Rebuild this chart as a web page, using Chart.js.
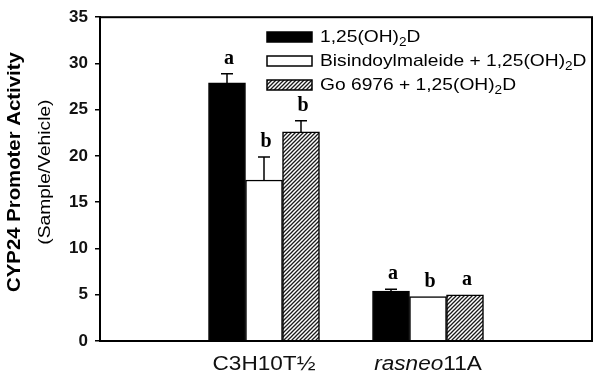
<!DOCTYPE html>
<html>
<head>
<meta charset="utf-8">
<script src="https://cdn.jsdelivr.net/npm/chart.js@4/dist/chart.umd.min.js"></script>
<style>
  html, body { margin: 0; padding: 0; background: #fff; }
  #wrap { width: 600px; height: 386px; }
</style>
</head>
<body>
<div id="wrap"><canvas id="chart" width="600" height="386"></canvas></div>
<script>
// categories (empty slots at both ends keep the two groups where they sit)
const cells = ['', 'C3H10T½', 'rasneo11A', ''];
const cellParts = [[], [['C3H10T½', false]], [['rasneo', true], ['11A', false]], []];

// series values and upward error bars
const calcitriol = [null, 27.9, 5.4, null];
const calcitriolErr = [null, 1.0, 0.2, null];
const bisindo = [null, 17.4, 4.8, null];
const bisindoErr = [null, 2.5, 0, null];
const go6976 = [null, 22.6, 5.0, null];
const go6976Err = [null, 1.2, 0, null];

// significance letters
const calcitriolSig = ['', 'a', 'a', ''];
const bisindoSig = ['', 'b', 'b', ''];
const go6976Sig = ['', 'b', 'a', ''];

// legend text: [main, subscript, tail]
const legendNames = [
    ['1,25(OH)', '2', 'D'],
    ['Bisindoylmaleide + 1,25(OH)', '2', 'D'],
    ['Go 6976 + 1,25(OH)', '2', 'D']
];

const yTicks = [0, 5, 10, 15, 20, 25, 30, 35];

const SANS = '"Liberation Sans", Arial, sans-serif';
const WIDE = 1.13;   // the figure's lettering runs a bit wide

// diagonal hatch for the Go 6976 bars
function makeHatch() {
    const c = document.createElement('canvas');
    c.width = 4; c.height = 4;
    const g = c.getContext('2d');
    g.fillStyle = '#fff';
    g.fillRect(0, 0, 4, 4);
    g.strokeStyle = '#1a1a1a';
    g.lineWidth = 1.3;
    g.beginPath();
    g.moveTo(0, 4); g.lineTo(4, 0);
    g.moveTo(-1, 1); g.lineTo(1, -1);
    g.moveTo(3, 5); g.lineTo(5, 3);
    g.stroke();
    return g.createPattern(c, 'repeat');
}
const hatch = makeHatch();

const errs = [calcitriolErr, bisindoErr, go6976Err];
const sigs = [calcitriolSig, bisindoSig, go6976Sig];

// left-aligned text, stretched along its run; returns the advance
function wideText(ctx, str, x, y) {
    ctx.save();
    ctx.translate(x, y);
    ctx.scale(WIDE, 1);
    ctx.fillText(str, 0, 0);
    ctx.restore();
    return ctx.measureText(str).width * WIDE;
}

const extras = {
    id: 'extras',
    afterDatasetsDraw(chart) {
        const ctx = chart.ctx;
        const area = chart.chartArea;
        const y = chart.scales.y;
        const x = chart.scales.x;
        ctx.save();

        // error bars and letters
        chart.data.datasets.forEach((ds, di) => {
            const meta = chart.getDatasetMeta(di);
            meta.data.forEach((bar, i) => {
                const v = ds.data[i];
                if (v == null) return;
                const e = errs[di][i] || 0;
                const top = y.getPixelForValue(v + e);
                if (e > 0) {
                    ctx.strokeStyle = '#000';
                    ctx.lineWidth = 1.5;
                    ctx.beginPath();
                    ctx.moveTo(bar.x, bar.y);
                    ctx.lineTo(bar.x, top);
                    ctx.moveTo(bar.x - 6, top);
                    ctx.lineTo(bar.x + 6, top);
                    ctx.stroke();
                }
                ctx.fillStyle = '#000';
                ctx.font = 'bold 20px "Liberation Serif", "DejaVu Serif", serif';
                ctx.textAlign = 'center';
                ctx.textBaseline = 'alphabetic';
                ctx.fillText(sigs[di][i], bar.x + 2, top - 10);
            });
        });

        // frame round the plot
        ctx.strokeStyle = '#000';
        ctx.lineWidth = 2;
        ctx.strokeRect(area.left, area.top, area.right - area.left, area.bottom - area.top);

        // x labels, with the italic part
        ctx.fillStyle = '#111';
        ctx.textBaseline = 'middle';
        ctx.textAlign = 'left';
        cellParts.forEach((parts, i) => {
            if (!parts.length) return;
            let w = 0;
            parts.forEach(p => {
                ctx.font = (p[1] ? 'italic ' : '') + '20px ' + SANS;
                w += ctx.measureText(p[0]).width * WIDE;
            });
            let px = x.getPixelForValue(i) - w / 2;
            parts.forEach(p => {
                ctx.font = (p[1] ? 'italic ' : '') + '20px ' + SANS;
                px += wideText(ctx, p[0], px, 364);
            });
        });

        // y title
        const midY = (area.top + area.bottom) / 2 - 7;
        ctx.save();
        ctx.translate(15, midY);
        ctx.rotate(-Math.PI / 2);
        ctx.fillStyle = '#000';
        ctx.textAlign = 'left';
        ctx.font = 'bold 18px ' + SANS;
        let tw = ctx.measureText('CYP24 Promoter Activity').width * WIDE;
        wideText(ctx, 'CYP24 Promoter Activity', -tw / 2, 0);
        ctx.font = '17px ' + SANS;
        tw = ctx.measureText('(Sample/Vehicle)').width * WIDE;
        wideText(ctx, '(Sample/Vehicle)', -tw / 2, 30);
        ctx.restore();

        // legend
        const swX = 267, swW = 45, textX = 320;
        legendNames.forEach((name, k) => {
            const ly = 37 + k * 24;
            const ds = chart.data.datasets[k];
            ctx.fillStyle = ds.backgroundColor;
            ctx.fillRect(swX, ly - 5, swW, 10);
            ctx.strokeStyle = '#000';
            ctx.lineWidth = 1.5;
            ctx.strokeRect(swX, ly - 5, swW, 10);
            ctx.fillStyle = '#000';
            ctx.textAlign = 'left';
            ctx.textBaseline = 'middle';
            ctx.font = '17px ' + SANS;
            let px = textX;
            px += wideText(ctx, name[0], px, ly);
            ctx.font = '12px ' + SANS;
            px += wideText(ctx, name[1], px, ly + 6);
            ctx.font = '17px ' + SANS;
            wideText(ctx, name[2], px, ly);
        });

        ctx.restore();
    }
};

new Chart(document.getElementById('chart'), {
    type: 'bar',
    data: {
        labels: cells,
        datasets: [
            { label: '1,25(OH)2D', data: calcitriol, backgroundColor: '#000', borderColor: '#000', borderWidth: 1 },
            { label: 'Bisindoylmaleide + 1,25(OH)2D', data: bisindo, backgroundColor: '#fff', borderColor: '#000', borderWidth: 1.5 },
            { label: 'Go 6976 + 1,25(OH)2D', data: go6976, backgroundColor: hatch, borderColor: '#000', borderWidth: 1.5 }
        ]
    },
    options: {
        responsive: false,
        animation: false,
        barThickness: 37,
        layout: { padding: { left: 0, right: 8, top: 13, bottom: 0 } },
        plugins: { legend: { display: false }, tooltip: { enabled: false } },
        scales: {
            x: {
                offset: false,
                grid: { display: false },
                border: { display: true, color: '#000', width: 2 },
                ticks: { display: false },
                afterFit(s) { s.height = 45; }
            },
            y: {
                min: 0, max: 35,
                afterBuildTicks(s) { s.ticks = yTicks.map(v => ({ value: v })); },
                grid: { drawOnChartArea: false, drawTicks: true, tickLength: 5, color: '#000', lineWidth: 1.5 },
                border: { display: true, color: '#000', width: 2 },
                ticks: {
                    color: '#111',
                    padding: 7,
                    font: { family: SANS, size: 17, weight: 'bold' }
                },
                afterFit(s) { s.width = 100; }
            }
        }
    },
    plugins: [extras]
});
</script>
</body>
</html>
